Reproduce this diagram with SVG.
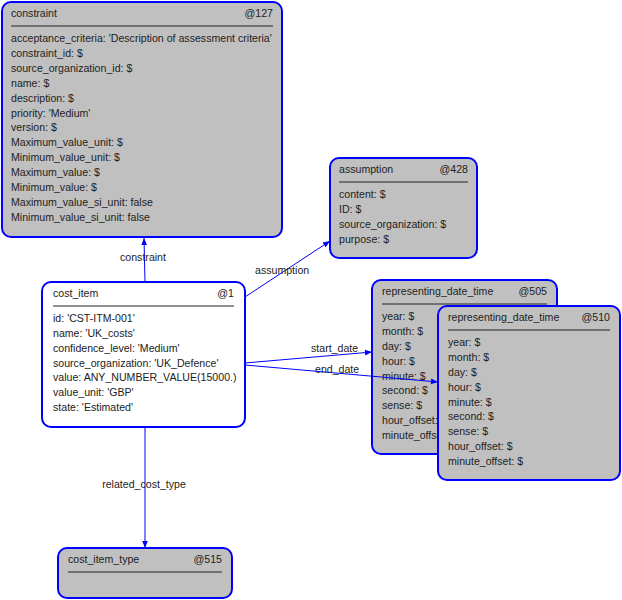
<svg xmlns="http://www.w3.org/2000/svg" width="622" height="600" viewBox="0 0 622 600">
<style>
.box{fill:#c0c0c0;stroke:#0000ff;stroke-width:2}
.wbox{fill:#ffffff;stroke:#0000ff;stroke-width:2}
text{font-family:"Liberation Sans",Arial,sans-serif;font-size:10.6px;fill:#222}
.sep{stroke:#222;stroke-width:1}
.c{stroke:#0000ff;stroke-width:1;fill:none;marker-end:url(#a)}
.e{text-anchor:end}
.m{text-anchor:middle}
</style>
<defs><marker id="a" viewBox="0 0 10 10" refX="10" refY="5" markerWidth="9" markerHeight="7" orient="auto" markerUnits="userSpaceOnUse"><path d="M0,1L10,5L0,9z" fill="#0000ff"/></marker></defs>
<g id="constraint">
<rect class="box" x="2" y="2" width="280" height="235" rx="9"/>
<text x="11" y="17">constraint</text><text class="e" x="273" y="17">@127</text>
<line class="sep" x1="11" y1="26" x2="273" y2="26"/>
<text x="11" y="42">acceptance_criteria: 'Description of assessment criteria'</text>
<text x="11" y="57">constraint_id: $</text>
<text x="11" y="72">source_organization_id: $</text>
<text x="11" y="87">name: $</text>
<text x="11" y="102">description: $</text>
<text x="11" y="117">priority: 'Medium'</text>
<text x="11" y="131">version: $</text>
<text x="11" y="146">Maximum_value_unit: $</text>
<text x="11" y="161">Minimum_value_unit: $</text>
<text x="11" y="176">Maximum_value: $</text>
<text x="11" y="191">Minimum_value: $</text>
<text x="11" y="206">Maximum_value_si_unit: false</text>
<text x="11" y="221">Minimum_value_si_unit: false</text>
</g>
<g id="assumption">
<rect class="box" x="330" y="158" width="147" height="100" rx="9"/>
<text x="339" y="173">assumption</text><text class="e" x="468" y="173">@428</text>
<line class="sep" x1="339" y1="182" x2="468" y2="182"/>
<text x="339" y="198">content: $</text>
<text x="339" y="213">ID: $</text>
<text x="339" y="228">source_organization: $</text>
<text x="339" y="243">purpose: $</text>
</g>
<g id="cost_item">
<rect class="wbox" x="42" y="282" width="203" height="145" rx="9"/>
<text x="53" y="297">cost_item</text><text class="e" x="234" y="297">@1</text>
<line class="sep" x1="53" y1="306" x2="234" y2="306"/>
<text x="53" y="322">id: 'CST-ITM-001'</text>
<text x="53" y="337">name: 'UK_costs'</text>
<text x="53" y="352">confidence_level: 'Medium'</text>
<text x="53" y="367">source_organization: 'UK_Defence'</text>
<text x="53" y="381">value: ANY_NUMBER_VALUE(15000.)</text>
<text x="53" y="396">value_unit: 'GBP'</text>
<text x="53" y="411">state: 'Estimated'</text>
</g>
<g id="rdt505">
<rect class="box" x="372" y="280" width="185" height="174" rx="9"/>
<text x="382" y="295">representing_date_time</text><text class="e" x="547" y="295">@505</text>
<line class="sep" x1="382" y1="304" x2="547" y2="304"/>
<text x="382" y="320">year: $</text>
<text x="382" y="335">month: $</text>
<text x="382" y="350">day: $</text>
<text x="382" y="365">hour: $</text>
<text x="382" y="380">minute: $</text>
<text x="382" y="394">second: $</text>
<text x="382" y="409">sense: $</text>
<text x="382" y="424">hour_offset: $</text>
<text x="382" y="439">minute_offset: $</text>
</g>
<g id="rdt510">
<rect class="box" x="438" y="306" width="182" height="174" rx="9"/>
<text x="448" y="321">representing_date_time</text><text class="e" x="610" y="321">@510</text>
<line class="sep" x1="448" y1="330" x2="610" y2="330"/>
<text x="448" y="346">year: $</text>
<text x="448" y="361">month: $</text>
<text x="448" y="376">day: $</text>
<text x="448" y="391">hour: $</text>
<text x="448" y="406">minute: $</text>
<text x="448" y="420">second: $</text>
<text x="448" y="435">sense: $</text>
<text x="448" y="450">hour_offset: $</text>
<text x="448" y="465">minute_offset: $</text>
</g>
<g id="cost_item_type">
<rect class="box" x="58" y="548" width="174" height="50" rx="9"/>
<text x="68" y="563">cost_item_type</text><text class="e" x="222" y="563">@515</text>
<line class="sep" x1="68" y1="572" x2="222" y2="572"/>
</g>
<g id="connectors">
<line class="c" x1="145" y1="282" x2="144" y2="238"/>
<line class="c" x1="245" y1="297" x2="330" y2="241"/>
<line class="c" x1="245" y1="363" x2="372" y2="352"/>
<line class="c" x1="245" y1="365" x2="438" y2="382"/>
<line class="c" x1="145" y1="427" x2="145" y2="548"/>
<text class="m" x="143" y="261">constraint</text>
<text x="255" y="274">assumption</text>
<text x="311" y="352">start_date</text>
<text x="315" y="373">end_date</text>
<text class="m" x="144" y="488">related_cost_type</text>
</g>
</svg>
